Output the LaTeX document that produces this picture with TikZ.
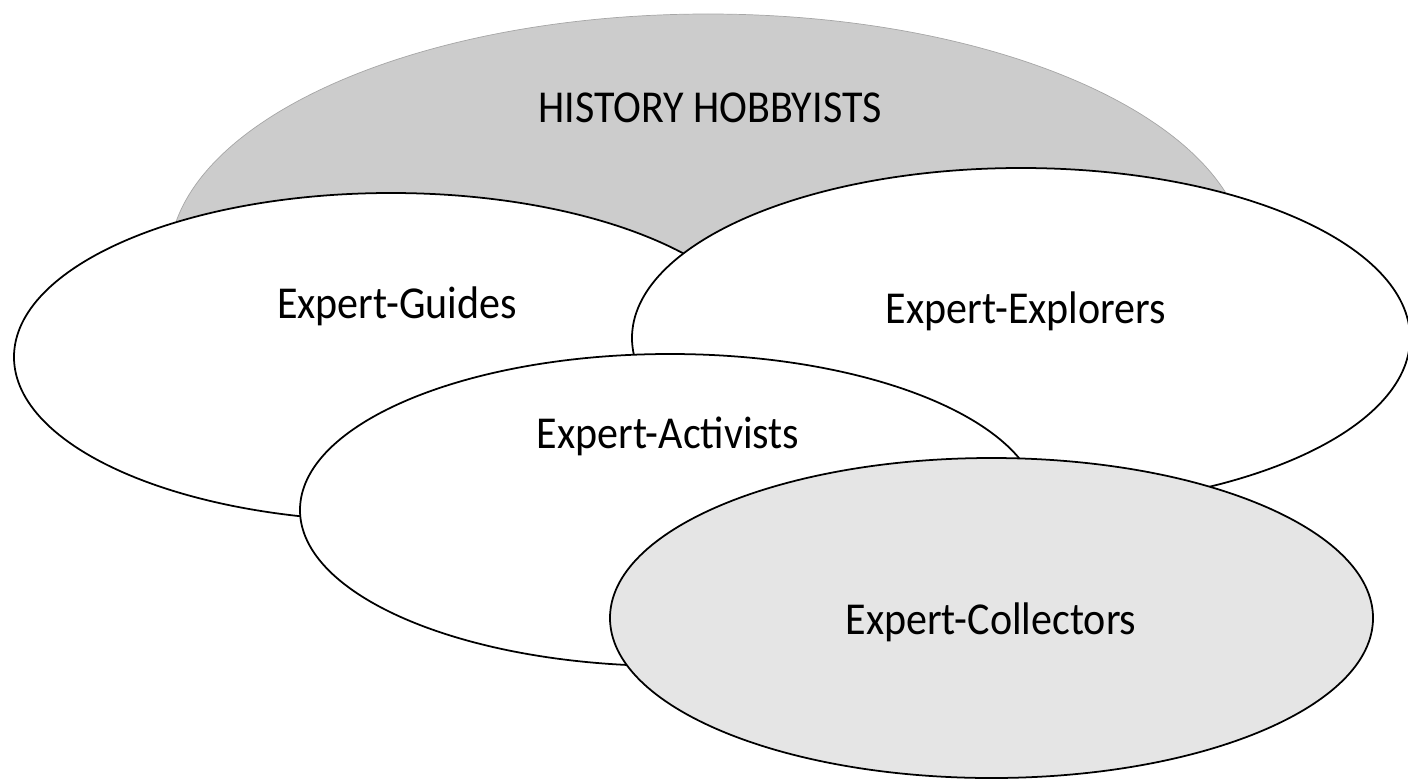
\documentclass[tikz,border=0pt]{standalone}
\usepackage{fontspec}
\setmainfont{Carlito}[FakeStretch=0.92]
\usetikzlibrary{shapes.geometric}
\tikzset{
  grp/.style={ellipse,draw=black,line width=1pt,inner sep=0pt},
  lbl/.style={anchor=base,inner sep=0pt,font=\fontsize{26}{30}\selectfont}
}
\begin{document}
\begin{tikzpicture}[x=0.2mm,y=-0.2mm]
\useasboundingbox (0,0) rectangle (1408,780);

\node at (708,262) [grp,draw=gray!70,line width=0.4pt,fill=gray!40,minimum width=215.6mm,minimum height=99.2mm] (hobby) {};

\node at (391,357) [grp,fill=white,minimum width=150.8mm,minimum height=65.6mm] (guides) {};
\node at (1021,338) [grp,fill=white,minimum width=155.6mm,minimum height=68mm] (explorers) {};
\node at (670,510) [grp,fill=white,minimum width=148mm,minimum height=62.4mm] (activists) {};
\node at (991.5,618) [grp,fill=gray!20,minimum width=152.6mm,minimum height=64mm] (collectors) {};

\node at (710,122) [lbl] (hobbytxt) {HISTORY HOBBYISTS};
\node at (397,318) [lbl] (guidestxt) {Expert-Guides};
\node at (1026,323) [lbl] (explorerstxt) {Expert-Explorers};
\node at (668,448) [lbl] (activiststxt) {Expert-Activists};
\node at (991,634) [lbl] (collectorstxt) {Expert-Collectors};
\end{tikzpicture}
\end{document}
